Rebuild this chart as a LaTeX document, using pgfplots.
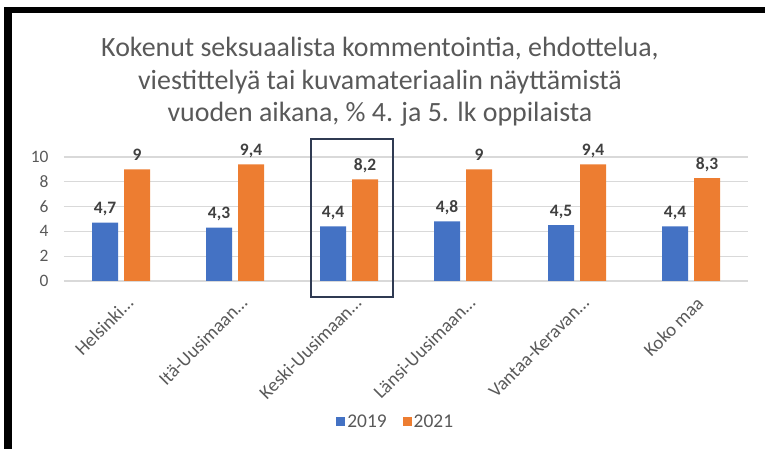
\documentclass[border=0pt]{standalone}
\usepackage{pgfplots}
\pgfplotsset{compat=1.18}
\usetikzlibrary{calc}
\usepackage{fontspec}
\setmainfont{Carlito}
\definecolor{cblue}{HTML}{4472C4}
\definecolor{corange}{HTML}{ED7D31}
\definecolor{tgray}{HTML}{595959}
\definecolor{lgray}{HTML}{404040}
\definecolor{gridc}{HTML}{D9D9D9}
\definecolor{boxc}{HTML}{2F3A52}
\begin{document}
\begin{tikzpicture}[x=1bp,y=1bp]
\begin{axis}[
  name=ax,
  at={(0,0)}, anchor=south west,
  scale only axis, width=684bp, height=124bp,
  xmin=-0.5, xmax=5.5, ymin=0, ymax=10,
  ytick={0,2,4,6,8,10},
  xtick={0,1,2,3,4,5},
  xticklabels={Helsinki…,Itä-Uusimaan…,Keski-Uusimaan…,Länsi-Uusimaan…,Vantaa-Keravan…,Koko maa},
  axis line style={draw=none},
  major tick length=0pt,
  ymajorgrids, grid style={gridc, line width=1.2bp},
  ybar=6bp, bar width=26bp,
  clip=false,
  /pgf/number format/assume math mode=true,
  /pgf/number format/use comma,
  yticklabel style={font=\fontsize{17.5}{19}\selectfont, text=tgray, xshift=-12bp},
  xticklabel style={font=\fontsize{19}{21}\selectfont, text=tgray, xshift=9bp, yshift=-19bp, rotate=45, anchor=east, inner sep=0bp},
  ytick style={draw=none}, xtick style={draw=none},
  nodes near coords,
  nodes near coords style={font=\bfseries\fontsize{17.5}{19}\selectfont, text=lgray, anchor=base, yshift=9bp, inner sep=0},
  legend style={at={(axis description cs:0.485,-1.137)}, anchor=center, draw=none, legend columns=2, font=\fontsize{19.5}{21}\selectfont, text=tgray, /tikz/every even column/.append style={column sep=14bp}},
  legend image code/.code={\path[#1] (0bp,-4.5bp) rectangle (9bp,4.5bp);},
]
\addplot[fill=cblue, draw=none] coordinates {(0,4.7) (1,4.3) (2,4.4) (3,4.8) (4,4.5) (5,4.4)};
\addplot[fill=corange, draw=none] coordinates {(0,9) (1,9.4) (2,8.2) (3,9) (4,9.4) (5,8.3)};
\legend{2019,2021}
\draw[boxc, line width=2.2bp] (axis cs:1.667,-1.29) rectangle (axis cs:2.386,11.45);
\end{axis}
\begin{scope}[shift={($(ax.south west)+(-64,-168)$)}]
\path[use as bounding box] (0,0) rectangle (765,449);
\fill[black] (4,0) rectangle (12.5,442);
\fill[black] (4,436) rectangle (765,442);
\node[text=tgray, font=\fontsize{28}{33}\selectfont, anchor=base, inner sep=0] at (380,392) {Kokenut seksuaalista kommentointia, ehdottelua,};
\node[text=tgray, font=\fontsize{28}{33}\selectfont, anchor=base, inner sep=0] at (380,359) {viestittelyä tai kuvamateriaalin näyttämistä};
\node[text=tgray, font=\fontsize{28}{33}\selectfont, anchor=base, inner sep=0] at (380,327) {vuoden aikana, \% 4. ja 5. lk oppilaista};
\end{scope}
\end{tikzpicture}
\end{document}
